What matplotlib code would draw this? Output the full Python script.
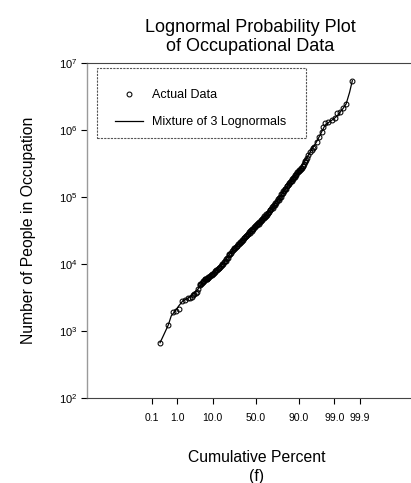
from statistics import NormalDist

import numpy as np
import matplotlib
matplotlib.use("Agg")
import matplotlib.pyplot as plt
from matplotlib.patches import Rectangle
from matplotlib.ticker import NullLocator, FixedLocator, FixedFormatter

plt.rcParams["font.family"] = ["Liberation Sans", "DejaVu Sans"]
plt.rcParams["mathtext.fontset"] = "custom"
plt.rcParams["mathtext.rm"] = "Liberation Sans"
plt.rcParams["mathtext.it"] = "Liberation Sans:italic"
plt.rcParams["mathtext.bf"] = "Liberation Sans:bold"

# occupations: cumulative percent vs. number of people
cum_percent = [
    0.223, 0.469, 0.714, 0.892, 1.13, 1.39, 1.78, 2.25, 2.5, 2.85,
    3.1, 3.39, 3.7, 3.96, 4.3, 4.88,
    5.0, 5.5, 6.0, 6.5, 7.0, 7.5, 8.0, 8.75, 9.5, 10.25,
    11, 12, 13, 14, 15, 16, 17.25, 18.5, 19.75, 21,
    22.5, 24, 25.5, 27, 28.5, 30, 31.5, 33, 34.5, 36,
    37.5, 39, 40.5, 42, 43.5, 45, 46.5, 48, 49.5, 51,
    52.5, 54, 55.5, 57, 58.5, 60, 61.5, 63, 64.5, 66,
    67.5, 69, 70.5, 72, 73.5, 75, 76.25, 77.5, 78.75, 80,
    81, 82, 83, 84, 85, 86, 86.75, 87.5, 88.25, 89,
    89.75, 90.5, 91.1, 91.7, 92.3, 92.9, 93.4,
    94.01, 94.60, 95.12, 95.51, 95.85, 96.45, 96.95, 97.46, 97.74, 97.99,
    98.42, 98.78, 99.06, 99.18, 99.37, 99.53, 99.63, 99.79,
    # crowded middle of the distribution
    5.25, 5.75, 6.25, 6.75, 7.25, 7.75, 8.4, 9.1, 9.9, 10.6,
    11.5, 12.5, 13.5, 14.5, 15.5, 16.6, 17.9, 19.1, 20.4, 21.7,
    23.2, 24.7, 26.2, 27.7, 29.2, 30.7, 32.2, 33.7, 35.2, 36.7,
    38.2, 39.7, 41.2, 42.7, 44.2, 45.7, 47.2, 48.7, 50.2, 51.7,
    53.2, 54.7, 56.2, 57.7, 59.2, 60.7, 62.2, 63.7, 65.2, 66.7,
    68.2, 69.7, 71.2, 72.7, 74.2, 75.6, 76.9, 78.1, 79.4, 80.5,
    81.5, 82.5, 83.5, 84.5, 85.5, 86.4, 87.1, 87.9, 88.6, 89.4,
    90.1, 90.8, 91.4, 92.0, 92.6, 93.15,
]
people = [
    671, 1233, 1905, 2014, 2113, 2838, 2904, 3083, 3155, 3258,
    3420, 3573, 3700, 3864, 4240, 4943,
    5070, 5160, 5510, 5890, 5940, 5970, 6280, 6730, 6900, 7130,
    7590, 8180, 8410, 8650, 9380, 10070, 10620, 11140, 12220, 13430,
    14260, 15890, 16560, 17060, 18370, 19680, 20370, 21130, 22650, 24430,
    25060, 25880, 27730, 29650, 30550, 31330, 33650, 36060, 36730, 37670,
    40180, 42850, 43750, 44670, 47860, 51400, 52720, 54450, 58480, 63680,
    66220, 69020, 75340, 82410, 86300, 90570, 99540, 109150, 114600, 121100,
    131800, 143900, 150300, 156700, 169800, 185800, 191400, 197700, 215300, 232800,
    241000, 250000, 267900, 293100, 307600, 341200, 375000,
    420700, 459200, 500000, 535800, 559800, 665300, 788900, 937600, 1112000, 1250000,
    1321000, 1400000, 1483000, 1762000, 1862000, 2089000, 2399000, 5395000,
    5047, 5483, 5508, 5957, 5943, 6339, 6295, 6823, 7211, 7261,
    7907, 8054, 8831, 8995, 9772, 10023, 11272, 11967, 12445, 13932,
    14521, 16218, 17338, 17660, 18493, 19588, 21429, 22387, 22751, 24155,
    26303, 27416, 27797, 29444, 32063, 33343, 33651, 35481, 38459, 39811,
    40088, 42267, 45814, 47424, 47973, 50816, 55335, 57810, 59020, 63387,
    69984, 73961, 76208, 82224, 91622, 97499, 100693, 109144, 121900, 129718,
    133045, 143549, 158489, 167109, 171791, 184077, 201372, 211836, 216770, 231739,
    253513, 264850, 271019, 293089, 331894, 353183,
]

# fitted mixture of three lognormals
fit_percent = [0.223, 0.3, 0.469, 0.6, 0.8, 1.1, 1.5, 2.5, 4, 6, 10, 16, 25, 35,
               50, 65, 75, 84, 90, 94, 96.5, 98, 99, 99.2, 99.5, 99.63, 99.73, 99.79]
fit_people = [671, 847, 1233, 1679, 1950, 2366, 2810, 3220, 4030, 5430, 7130, 9890,
              16290, 23070, 37330, 59700, 92680, 159600, 245500, 416900, 676100,
              1175000, 1479000, 1607000, 2042000, 2427000, 3630000, 5400000]

x_ticks = [0.1, 1.0, 10.0, 50.0, 90.0, 99.0, 99.9]
x_tick_labels = ["0.1", "1.0", "10.0", "50.0", "90.0", "99.0", "99.9"]

nd = NormalDist()


def to_z(p):
    p = np.clip(np.asarray(p, dtype=float) / 100.0, 1e-12, 1 - 1e-12)
    return np.vectorize(nd.inv_cdf, otypes=[float])(p)


def from_z(z):
    z = np.asarray(z, dtype=float)
    return 100.0 * np.vectorize(nd.cdf, otypes=[float])(z)


fig = plt.figure(figsize=(4.11, 4.83), dpi=100)
ax = fig.add_axes([87.35 / 411, (483 - 398.2) / 483, 337 / 411, 335.5 / 483])

ax.set_xscale("function", functions=(to_z, from_z))
ax.set_yscale("log")
ax.set_xlim(100 * nd.cdf(-5), 100 * nd.cdf(5))
ax.set_ylim(1e2, 1e7)

ax.plot(fit_percent, fit_people, color="black", lw=0.9,
        label="Mixture of 3 Lognormals", zorder=2)
ax.plot(cum_percent, people, ls="none", marker="o", ms=3.5, mfc="none",
        mec="black", mew=0.75, label="Actual Data", zorder=3)

ax.xaxis.set_major_locator(FixedLocator(x_ticks))
ax.xaxis.set_major_formatter(FixedFormatter(x_tick_labels))
ax.xaxis.set_minor_locator(NullLocator())
ax.yaxis.set_minor_locator(NullLocator())
ax.set_yticks([1e2, 1e3, 1e4, 1e5, 1e6, 1e7])

ax.tick_params(axis="x", direction="out", length=4, width=0.8, pad=6.5,
               labelsize=7.5, top=False)
ax.tick_params(axis="y", direction="out", length=4, width=0.8, pad=3,
               labelsize=8, right=False)

ax.spines["left"].set_color("#9a9a9a")
ax.spines["left"].set_linewidth(1.0)
ax.spines["right"].set_visible(False)
for side in ("top", "bottom"):
    ax.spines[side].set_color("#444444")
    ax.spines[side].set_linewidth(0.8)
    ax.spines[side].set_linestyle((0, (2, 1)))

# legend entries without their own frame; the box is drawn separately
handles, labels = ax.get_legend_handles_labels()
leg = ax.legend(handles[::-1], labels[::-1], loc="upper left",
                bbox_to_anchor=(0.082, 0.9216), borderaxespad=0,
                fontsize=9, numpoints=1, handlelength=2.24,
                handletextpad=0.72, labelspacing=1.22, borderpad=0,
                frameon=False)
box = Rectangle((97 / 411, 1 - 138 / 483), 209 / 411, 70 / 483,
                transform=fig.transFigure, fill=False, edgecolor="#555555",
                lw=0.8, ls=(0, (2, 1)), zorder=4)
fig.add_artist(box)

fig.text(250 / 411, 1 - 37 / 483, "Lognormal Probability Plot\nof Occupational Data",
         ha="center", va="center", fontsize=13, linespacing=1.1)
fig.text(256.5 / 411, 1 - 457 / 483, "Cumulative Percent", ha="center",
         va="center", fontsize=11.3)
fig.text(256.5 / 411, 1 - 477 / 483, "(f)", ha="center", va="center",
         fontsize=11.3)
fig.text(28 / 411, 1 - 230 / 483, "Number of People in Occupation",
         rotation=90, ha="center", va="center", fontsize=11.3)

fig.savefig("out.png", dpi=100)
